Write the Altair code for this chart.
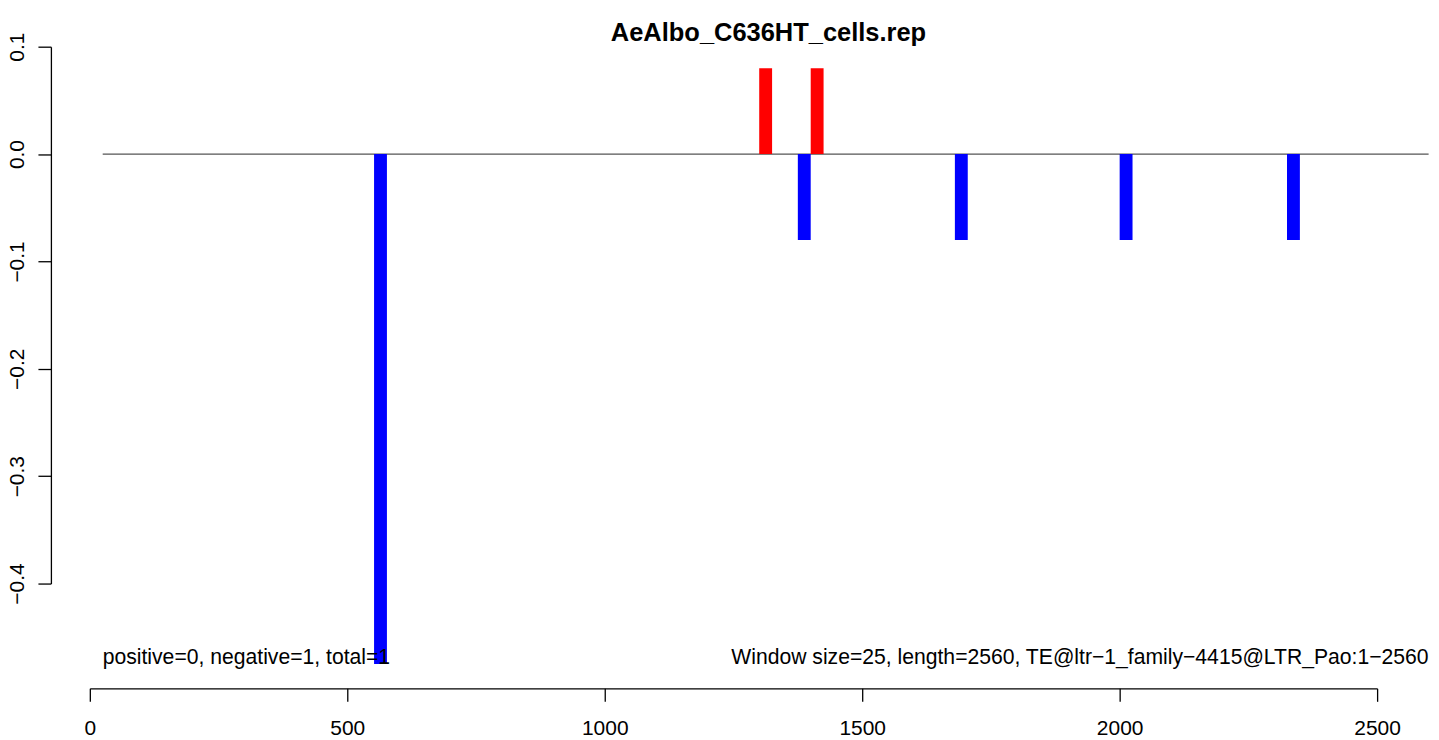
import altair as alt
import pandas as pd

# bar data (window start, window end, value)
red_starts = [1300, 1400]
red_values = [0.08, 0.08]
blue_starts = [552, 1375, 1680, 2000, 2325]
blue_values = [-0.475, -0.08, -0.08, -0.08, -0.08]
window = 25

x_ticks = [0, 500, 1000, 1500, 2000, 2500]
y_ticks = [0.1, 0.0, -0.1, -0.2, -0.3, -0.4]

title_text = "AeAlbo_C636HT_cells.rep"
left_note = "positive=0, negative=1, total=1"
right_note = "Window size=25, length=2560, TE@ltr\u22121_family\u22124415@LTR_Pao:1\u22122560"

FONT = "Liberation Sans"
FS = 21

bars = pd.DataFrame({
    "start": red_starts + blue_starts,
    "end": [s + window for s in red_starts + blue_starts],
    "value": red_values + blue_values,
    "strand": ["pos"] * len(red_starts) + ["neg"] * len(blue_starts),
})

x_scale = alt.Scale(domain=[0, 2500], nice=False, zero=False)
y_scale = alt.Scale(domain=[-0.4, 0.1], nice=False, zero=False)

x_axis = alt.Axis(values=x_ticks, title=None, grid=False, offset=105, tickSize=13,
                  labelPadding=33, labelBaseline="alphabetic", format="d",
                  labelFontSize=FS, labelFont=FONT, labelColor="black",
                  domainColor="black", tickColor="black", domainWidth=1.3, tickWidth=1.3,
                  labelFlush=False, labelOverlap=False)
y_axis = alt.Axis(values=y_ticks, title=None, grid=False, offset=39, tickSize=13,
                  labelPadding=14.5, labelFontSize=FS, labelFont=FONT, labelColor="black",
                  labelAngle=-90, labelAlign="center", labelBaseline="alphabetic",
                  format=".1f", domainColor="black", tickColor="black",
                  domainWidth=1.3, tickWidth=1.3, labelFlush=False, labelOverlap=False)

base = alt.Chart(bars)

bar_layer = base.mark_rect().encode(
    x=alt.X("start:Q", scale=x_scale, axis=x_axis),
    x2="end:Q",
    y=alt.Y("value:Q", scale=y_scale, axis=y_axis),
    y2=alt.datum(0),
    color=alt.Color("strand:N", scale=alt.Scale(domain=["pos", "neg"], range=["#ff0000", "#0000ff"]), legend=None),
)

zero_line = alt.Chart(pd.DataFrame({"a": [0]})).mark_rule(color="#555555", strokeWidth=1.2).encode(
    x=alt.datum(25), x2=alt.datum(2600), y=alt.datum(0.0)
)

left_text = alt.Chart(pd.DataFrame({"t": [left_note]})).mark_text(
    align="left", baseline="alphabetic", font=FONT, fontSize=21.2, color="black"
).encode(x=alt.datum(25), y=alt.datum(-0.475), text="t:N")

right_text = alt.Chart(pd.DataFrame({"t": [right_note]})).mark_text(
    align="right", baseline="alphabetic", font=FONT, fontSize=21.2, color="black"
).encode(x=alt.datum(2600), y=alt.datum(-0.475), text="t:N")

title_layer = alt.Chart(pd.DataFrame({"t": [title_text]})).mark_text(
    align="center", baseline="alphabetic", font=FONT, fontSize=25.5, fontWeight="bold", color="black"
).encode(x=alt.datum(1318), y=alt.datum(0.1052), text="t:N")

chart = alt.layer(zero_line, bar_layer, left_text, right_text, title_layer).properties(
    width=1290, height=538,
    padding={"left": 82, "top": 38, "right": 54, "bottom": 156},
    autosize=alt.AutoSizeParams(type="none"),
).configure_view(stroke=None)

chart.save("out.html", embed_options={"renderer": "svg", "actions": False})
